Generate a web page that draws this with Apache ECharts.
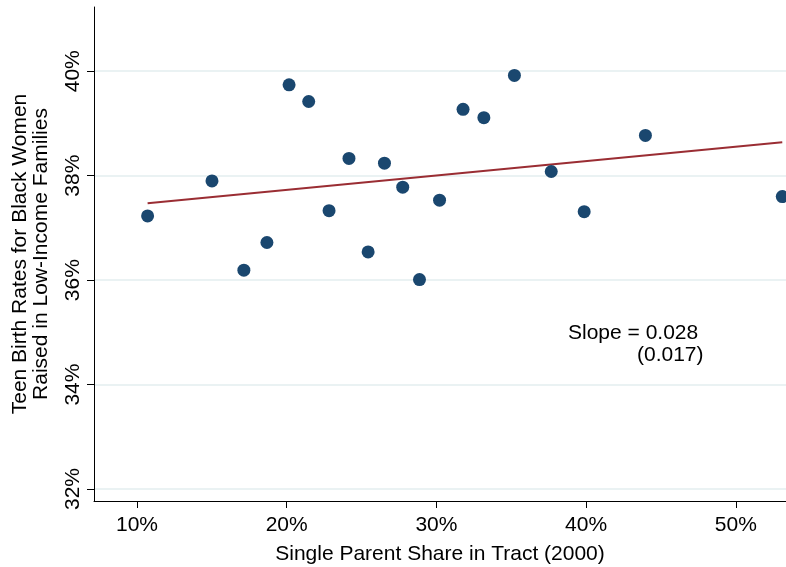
<!DOCTYPE html>
<html><head><meta charset="utf-8">
<script src="https://cdn.jsdelivr.net/npm/echarts@6/dist/echarts.min.js"></script>
<style>html,body{margin:0;padding:0;background:#fff}#c{width:786px;height:567px}</style>
</head><body><div id="c"></div>
<script>
// Single parent share (%) and teen birth rate (%)
var xShare = [10.71, 15.01, 17.14, 18.68, 20.16, 21.47, 22.83, 24.16, 25.44, 26.53, 27.75, 28.87, 30.21, 31.78, 33.17, 35.21, 37.67, 39.87, 43.96, 53.10];
var yTeen  = [37.23, 37.90, 36.19, 36.72, 39.74, 39.42, 37.33, 38.33, 36.54, 38.24, 37.78, 36.01, 37.53, 39.27, 39.11, 39.92, 38.08, 37.31, 38.77, 37.60];
var fitX = [10.71, 53.10];
var fitY = [37.47, 38.64];
var xTicks = [10, 20, 30, 40, 50];
var yTicks = [32, 34, 36, 38, 40];
var slopeText = ['Slope = 0.028', '(0.017)'];

var pts = xShare.map(function(x, i){ return [x, yTeen[i]]; });
var fit = fitX.map(function(x, i){ return [x, fitY[i]]; });
var FONT = '"Liberation Sans", Arial, sans-serif';
var chart = echarts.init(document.getElementById('c'));
chart.setOption({
  animation: false,
  backgroundColor: '#ffffff',
  grid: { left: 94, right: 0, top: 7, bottom: 66, containLabel: false, outerBoundsMode: 'none' },
  xAxis: {
    type: 'value', min: 7.13, max: 53.35,
    name: 'Single Parent Share in Tract (2000)', nameLocation: 'middle', nameGap: 43,
    nameTextStyle: { fontFamily: FONT, fontSize: 21, color: '#000' },
    axisLine: { lineStyle: { color: '#000', width: 1 } },
    axisTick: { show: true, length: 7, customValues: xTicks, lineStyle: { color: '#000' } },
    axisLabel: { customValues: xTicks, fontFamily: FONT, fontSize: 21, color: '#000', margin: 14,
      formatter: function(v){ return v + '%'; } },
    splitLine: { show: false }
  },
  yAxis: {
    type: 'value', min: 31.77, max: 41.23,
    name: 'Teen Birth Rates for Black Women\nRaised in Low-Income Families', nameLocation: 'middle', nameGap: 42,
    nameTextStyle: { fontFamily: FONT, fontSize: 21, color: '#000', lineHeight: 21 },
    axisLine: { show: true, lineStyle: { color: '#000', width: 1 } },
    axisTick: { show: true, length: 7, customValues: yTicks, lineStyle: { color: '#000' } },
    axisLabel: { customValues: yTicks, rotate: 90, fontFamily: FONT, fontSize: 21, color: '#000', margin: 10,
      formatter: function(v){ return v + '%'; } },
    splitLine: { show: true, lineStyle: { color: '#eaf2f3', width: 2 } }
  },
  series: [
    { type: 'scatter', data: pts, symbol: 'circle', symbolSize: 13, clip: false,
      itemStyle: { color: '#1a476f', opacity: 1 }, z: 3 },
    { type: 'line', data: fit, symbol: 'none', lineStyle: { color: '#9a2d33', width: 2 }, z: 2 }
  ],
  graphic: [
    { type: 'text', left: 568, top: 323, style: { text: slopeText[0], font: '21px ' + FONT, fill: '#000' } },
    { type: 'text', left: 637, top: 345, style: { text: slopeText[1], font: '21px ' + FONT, fill: '#000' } }
  ]
});
</script></body></html>
